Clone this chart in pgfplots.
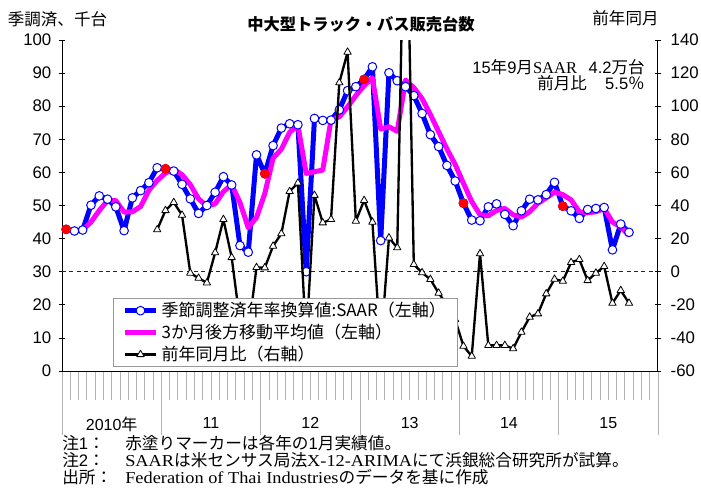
\documentclass[border=0pt]{standalone}
\usepackage{fontspec}
\usepackage{graphicx}
\usepackage{pgfplots}
\usepackage{pgfplotstable}
\pgfplotsset{compat=1.18}
\setmainfont{Liberation Sans}
\newfontfamily\jp{Noto Sans CJK JP}
\newfontfamily\tms{Liberation Serif}
\newcommand\tickfont{\fontsize{12.6pt}{14pt}\selectfont}
\newcommand\yrfont{\fontsize{12pt}{14pt}\selectfont}
\newcommand\legfont{\jp\fontsize{12.75pt}{15pt}\selectfont}
\newcommand\notefont{\fontsize{12.5pt}{14pt}\selectfont}
\newcommand\lat[1]{\scalebox{1.1}[1]{\tms #1}}
\definecolor{saar}{RGB}{0,0,255}
\definecolor{mag}{RGB}{255,0,255}

\pgfplotstableread{
i v
0 42.8
1 42.3
2 42.6
3 50.1
4 52.9
5 51.9
6 49.6
7 42.4
8 52.3
9 54.5
10 56.9
11 61.4
12 61.1
13 60.4
14 56.4
15 52.0
16 47.6
17 50.0
18 54.0
19 58.7
20 56.2
21 37.9
22 35.9
23 65.3
24 59.6
25 68.1
26 73.4
27 74.7
28 74.4
29 30.0
30 76.3
31 75.7
32 75.8
33 78.9
34 84.7
35 85.9
36 88.1
37 91.9
38 39.4
39 90.1
40 87.7
41 85.9
42 83.2
43 77.8
44 71.4
45 67.8
46 62.1
47 57.4
48 50.7
49 45.6
50 45.4
51 49.6
52 50.5
53 47.3
54 43.9
55 48.4
56 51.9
57 51.7
58 53.3
59 57.0
60 49.8
61 48.4
62 46.1
63 48.8
64 49.1
65 49.4
66 36.6
67 44.4
68 41.9
}\saar

\pgfplotstableread{
i v
2 42.6
3 45.0
4 48.5
5 51.5
6 51.5
7 48.0
8 48.1
9 49.7
10 54.6
11 57.6
12 59.8
13 61.0
14 59.3
15 56.3
16 52.0
17 49.9
18 50.5
19 54.2
20 56.3
21 50.9
22 43.3
23 46.4
24 53.6
25 64.3
26 67.0
27 72.1
28 74.2
29 59.7
30 60.2
31 60.7
32 75.9
33 76.8
34 79.8
35 83.2
36 86.2
37 88.6
38 73.1
39 73.8
40 72.4
41 87.9
42 85.6
43 82.3
44 77.5
45 72.3
46 67.1
47 62.4
48 56.7
49 51.2
50 47.2
51 46.9
52 48.5
53 49.1
54 47.2
55 46.5
56 48.1
57 50.7
58 52.3
59 54.0
60 53.3
61 51.7
62 48.1
63 47.8
64 48.1
65 49.1
66 45.0
67 43.5
68 41.0
}\ma

\pgfplotstableread{
i v
11 25.4
12 37.0
13 41.9
14 34.2
15 -0.8
16 -3.9
17 -6.7
18 11.5
19 31.6
20 8.6
21 -30
22 -37
23 2.6
24 2.4
25 15.5
26 23.0
27 48.5
28 53.6
29 -42
30 46.2
31 29.6
32 31.6
33 114.2
34 132.7
35 30.6
36 43.1
37 30.0
38 -46
39 20.5
40 14.5
41 265
42 4.4
43 -0.6
44 -4.6
45 -12.9
46 -20
47 -28.9
48 -45
49 -51
50 10.9
51 -44.5
52 -44.5
53 -44.5
54 -46.5
55 -36.5
56 -27.4
57 -25.4
58 -13.3
59 -4.5
60 -5.7
61 5.6
62 7.4
63 -5.3
64 -0.8
65 3.2
66 -19
67 -11.3
68 -19
}\yoy

\pgfplotsset{
  base/.style={at={(46.5pt,-278.25pt)}, anchor=south west, scale only axis,
    width=447pt, height=248.25pt, xmin=-0.5, xmax=71.5},
  saarstyle/.style={saar, line width=3.75pt, line join=round, mark=*, mark size=3.25pt,
    mark options={fill=white, draw=saar, line width=0.75pt, solid}},
  mastyle/.style={mag, line width=3.75pt, line join=round, no markers},
  yoystyle/.style={black, line width=1.75pt, line join=round, mark=triangle*, mark size=3.2pt,
    mark options={fill=white, draw=black, line width=0.6pt, solid}},
}

\begin{document}
\begin{tikzpicture}
\path[use as bounding box] (0pt,0pt) rectangle (525.75pt,-365.25pt);

% x axis with month ticks and year dividers
\begin{axis}[base, ymin=0, ymax=100, hide y axis, axis x line*=bottom,
  x axis line style={-, black, line width=0.75pt},
  tick align=outside, major tick length=48pt, minor tick length=21.75pt,
  xtick={-0.5,11.5,23.5,35.5,47.5,59.5,71.5}, xticklabels={},
  minor xtick={-0.5,0.5,...,71.5},
  every tick/.style={gray!60, line width=0.6pt},
  extra x ticks={5.5,17.5,29.5,41.5,53.5,65.5},
  extra x tick labels={2010{\jp 年},11,12,13,14,15},
  extra x tick style={major tick style={draw=none}, tick label style={font=\yrfont, yshift=17pt}},
]
\end{axis}

% left axis
\begin{axis}[base, ymin=0, ymax=100, hide x axis, axis y line*=left,
  y axis line style={-, black, line width=0.75pt},
  ytick={0,10,...,100}, tick align=center, major tick length=4pt,
  every tick/.style={black, line width=0.6pt},
  yticklabel style={font=\tickfont, xshift=-2.5pt},
  /pgf/number format/assume math mode=true,
]
\addplot[black!85, line width=0.6pt, dash pattern=on 3pt off 2.5pt] coordinates {(-0.5,30) (71.5,30)};
\addplot[saarstyle] table[x=i, y=v] {\saar};
\addplot[mastyle] table[x=i, y=v] {\ma};
\addplot[only marks, mark=*, mark size=3.4pt, mark options={draw=red, fill=red}] coordinates {(0,42.8) (12,61.1) (24,59.6) (36,88.1) (48,50.7) (60,49.8)};
\end{axis}

% right axis
\begin{axis}[base, ymin=-60, ymax=140, hide x axis, axis y line*=right,
  y axis line style={-, black, line width=0.75pt},
  ytick={-60,-40,...,140}, yticklabels={-60,-40,-20,0,20,40,60,80,100,120,140},
  tick align=center, major tick length=4pt,
  every tick/.style={black, line width=0.6pt},
  yticklabel style={font=\tickfont, xshift=4pt},
  legend image code/.code={\draw[mark repeat=2,mark phase=2,#1] plot coordinates {(0cm,0cm) (0.42cm,0cm) (0.84cm,0cm)};},
  legend cell align=left,
  legend style={at={(axis description cs:0.0856,0.2205)}, anchor=north west,
    draw=gray!80, line width=0.6pt, fill=white, inner xsep=6.5pt, inner ysep=1pt,
    row sep=0pt, font=\legfont, cells={anchor=west}},
]
\addlegendimage{saarstyle}
\addlegendentry{季節調整済年率換算値:SAAR（左軸）}
\addlegendimage{mastyle}
\addlegendentry{3か月後方移動平均値（左軸）}
\addplot[yoystyle] table[x=i, y=v] {\yoy};
\addlegendentry{前年同月比（右軸）}
\end{axis}

\begin{scope}[x=0.75pt, y=-0.75pt]
\node[font=\jp\fontsize{12.4pt}{14pt}\selectfont] at (57.5,19.5) {季調済、千台};
\node[font=\jp\fontsize{12.4pt}{14pt}\selectfont] at (625.5,18.5) {前年同月};
\node[font=\jp\bfseries\fontsize{12.2pt}{14pt}\selectfont] at (361,24) {中大型トラック・バス販売台数};
\node[anchor=east, inner sep=0pt, font=\fontsize{12.4pt}{14pt}\selectfont] at (645,67) {15{\jp 年}9{\jp 月}{\tms SAAR}\hspace{0.7em}4.2{\jp 万台}};
\node[anchor=east, inner sep=0pt, font=\fontsize{12.4pt}{14pt}\selectfont] at (645,83) {{\jp 前月比}\hspace{1.1em}5.5{\jp ％}};
\node[anchor=west, inner sep=0pt, font=\notefont] at (62,443) {{\jp 注}1{\jp ：}};
\node[anchor=west, inner sep=0pt, font=\notefont] at (125,443) {{\jp 赤塗りマーカーは各年の}1{\jp 月実績値。}};
\node[anchor=west, inner sep=0pt, font=\notefont] at (62,460) {{\jp 注}2{\jp ：}};
\node[anchor=west, inner sep=0pt, font=\notefont] at (125,460) {\lat{SAAR}{\jp は米センサス局法}\lat{X-12-ARIMA}{\jp にて浜銀総合研究所が試算。}};
\node[anchor=west, inner sep=0pt, font=\notefont] at (62,477) {{\jp 出所：}};
\node[anchor=west, inner sep=0pt, font=\notefont] at (125,477) {\lat{Federation of Thai Industries}{\jp のデータを基に作成}};
\end{scope}
\end{tikzpicture}
\end{document}
